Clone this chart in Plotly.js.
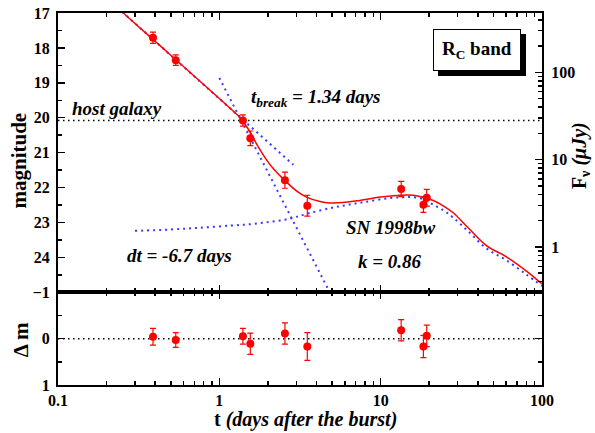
<!DOCTYPE html>
<html>
<head>
<meta charset="utf-8">
<script src="https://cdn.plot.ly/plotly-3.0.1.min.js"></script>
<style>html,body{margin:0;padding:0;background:#fff;}#chart{width:595px;height:433px;}</style>
</head>
<body>
<div id="chart"></div>
<script>
// ---- observed R_C photometry ----
const obsT   = [0.388, 0.537, 1.40, 1.556, 2.55, 3.51, 13.4, 18.4, 19.3];
const obsMag = [17.71, 18.35, 20.08, 20.59, 21.79, 22.52, 22.04, 22.49, 22.29];
const obsErr = [0.16, 0.15, 0.16, 0.21, 0.23, 0.30, 0.22, 0.22, 0.24];

// ---- residuals ----
const resDm  = [-0.04, 0.03, -0.05, 0.11, -0.11, 0.17, -0.18, 0.17, -0.06];
const resErr = [0.18, 0.16, 0.17, 0.23, 0.23, 0.30, 0.23, 0.24, 0.23];

// ---- total fit (red) ----
const fitT   = [0.254, 0.3, 0.4, 0.5, 0.7, 1.0, 1.2, 1.34, 1.45, 1.57, 1.75, 1.97, 2.2, 2.55, 3.02, 3.5, 4.21, 4.85, 5.8, 7.11, 10, 13.2, 15.8, 18, 21.2, 25, 28.3, 35, 45.5, 60.5, 80.5, 100];
const fitMag = [17.0, 17.30, 17.81, 18.21, 18.81, 19.45, 19.78, 19.99, 20.2, 20.45, 20.85, 21.22, 21.5, 21.8, 22.1, 22.28, 22.40, 22.44, 22.43, 22.38, 22.27, 22.22, 22.22, 22.27, 22.37, 22.55, 22.73, 23.16, 23.67, 23.99, 24.40, 24.76];

// ---- afterglow power laws (blue dotted) ----
const preT   = [0.25, 2.88];
const preMag = [16.97, 21.35];
const postT   = [1.0, 4.9];
const postMag = [18.86, 25.05];

// ---- SN 1998bw component (blue dotted) ----
const snT   = [0.3, 0.5, 0.76, 1.17, 1.55, 2.0, 2.55, 3.0, 3.63, 4.85, 6.0, 7.81, 11.4, 13.8, 15.2, 18, 21.2, 25, 28.3, 35, 45.5, 60.5, 80.5, 100];
const snMag = [23.24, 23.2, 23.15, 23.09, 23.05, 22.99, 22.92, 22.84, 22.73, 22.59, 22.51, 22.42, 22.30, 22.28, 22.27, 22.32, 22.49, 22.68, 22.87, 23.26, 23.75, 24.09, 24.5, 24.82];

// ---- host galaxy level and zero line ----
const hostT = [0.1, 100];
const hostMag = [20.08, 20.08];
const zeroT = [0.1, 100];
const zeroDm = [0, 0];

// ---- ticks ----
const xTickVals = [0.1, 1, 10, 100];
const xTickText = ['0.1', '1', '10', '100'];
const xMinor = [0.2,0.3,0.4,0.5,0.6,0.7,0.8,0.9,2,3,4,5,6,7,8,9,20,30,40,50,60,70,80,90];
const magTicks = [17, 18, 19, 20, 21, 22, 23, 24];
const magMinor = [17.5, 18.5, 19.5, 20.5, 21.5, 22.5, 23.5, 24.5];
const fluxTicks = [1, 10, 100];
const fluxTickText = ['1', '10', '100'];
const fluxMinor = [0.4,0.5,0.6,0.7,0.8,0.9,2,3,4,5,6,7,8,9,20,30,40,50,60,70,80,90,200,300,400];
const dmTicks = [-1, 0, 1];
const dmMinor = [-0.5, 0.5];

// magnitude corresponding to 100 microJy (for the flux axis)
const mag100 = 18.70;
const magRange = [25, 17];
const toFlux = m => Math.pow(10, 2 - 0.4 * (m - mag100));
const fluxRange = magRange.map(m => Math.log10(toFlux(m)));
const obsFlux = obsMag.map(toFlux);

const FONT = 'Liberation Serif, Times New Roman, serif';
const RED = '#ff0000';
const BLUE = '#3a3aff';
const DOTS = '2px,4px';

const traces = [
  {x: hostT, y: hostMag, xaxis: 'x', yaxis: 'y', mode: 'lines', line: {color: '#000', width: 1.5, dash: '1.5px,3.5px'}},
  {x: preT, y: preMag, xaxis: 'x', yaxis: 'y', mode: 'lines', line: {color: BLUE, width: 2, dash: DOTS}},
  {x: postT, y: postMag, xaxis: 'x', yaxis: 'y', mode: 'lines', line: {color: BLUE, width: 2, dash: DOTS}},
  {x: snT, y: snMag, xaxis: 'x', yaxis: 'y', mode: 'lines', line: {color: BLUE, width: 2, dash: DOTS, shape: 'spline'}},
  {x: fitT, y: fitMag, xaxis: 'x', yaxis: 'y', mode: 'lines', line: {color: RED, width: 1.5, shape: 'spline'}},
  {x: obsT, y: obsMag, xaxis: 'x', yaxis: 'y', mode: 'markers', marker: {color: RED, size: 8},
   error_y: {type: 'data', array: obsErr, visible: true, color: RED, thickness: 1.2, width: 3}},
  // same observations on the flux scale (invisible; it builds the right-hand axis)
  {x: obsT, y: obsFlux, xaxis: 'x', yaxis: 'y2', mode: 'markers', marker: {color: RED, size: 8, opacity: 0}},
  {x: zeroT, y: zeroDm, xaxis: 'x2', yaxis: 'y3', mode: 'lines', line: {color: '#000', width: 1.5, dash: '1.5px,3.5px'}},
  {x: obsT, y: resDm, xaxis: 'x2', yaxis: 'y3', mode: 'markers', marker: {color: RED, size: 8},
   error_y: {type: 'data', array: resErr, visible: true, color: RED, thickness: 1.2, width: 3}}
];

const tickFont = {family: FONT, size: 16, color: '#000', weight: 'bold'};
const split = 0.2492;

const xBase = {
  type: 'log', range: [-1, 2], showgrid: false, zeroline: false,
  showline: true, linecolor: '#000', linewidth: 2, mirror: 'ticks',
  ticks: 'inside', ticklen: 7, tickwidth: 1.5, tickcolor: '#000',
  tickmode: 'array', tickvals: xTickVals, ticktext: xTickText, tickfont: tickFont,
  minor: {tickmode: 'array', tickvals: xMinor, ticks: 'inside', ticklen: 4, tickwidth: 1.5, tickcolor: '#000', showgrid: false}
};

const layout = {
  width: 595, height: 433,
  margin: {l: 58, r: 53, t: 13, b: 48},
  paper_bgcolor: '#fff', plot_bgcolor: '#fff',
  showlegend: false,
  xaxis: Object.assign({}, xBase, {anchor: 'y', showticklabels: false}),
  xaxis2: Object.assign({}, xBase, {anchor: 'y3', matches: 'x', ticklabelstandoff: 0}),
  yaxis: {
    domain: [split, 1], range: magRange, anchor: 'x', side: 'left',
    showgrid: false, zeroline: false, showline: true, linecolor: '#000', linewidth: 2,
    ticks: 'inside', ticklen: 7, tickwidth: 1.5, tickcolor: '#000',
    tickmode: 'array', tickvals: magTicks, tickfont: tickFont, ticklabelstandoff: 3,
    minor: {tickmode: 'array', tickvals: magMinor, ticks: 'inside', ticklen: 4, tickwidth: 1.5, tickcolor: '#000', showgrid: false}
  },
  yaxis2: {
    type: 'log', overlaying: 'y', side: 'right', anchor: 'x', range: fluxRange,
    showgrid: false, zeroline: false, showline: true, linecolor: '#000', linewidth: 2,
    ticks: 'inside', ticklen: 7, tickwidth: 1.5, tickcolor: '#000',
    tickmode: 'array', tickvals: fluxTicks, ticktext: fluxTickText, tickfont: tickFont, ticklabelstandoff: 4,
    minor: {tickmode: 'array', tickvals: fluxMinor, ticks: 'inside', ticklen: 4, tickwidth: 1.5, tickcolor: '#000', showgrid: false}
  },
  yaxis3: {
    domain: [0, split], range: [1, -1], anchor: 'x2',
    showgrid: false, zeroline: false, showline: true, linecolor: '#000', linewidth: 2, mirror: 'ticks',
    ticks: 'inside', ticklen: 7, tickwidth: 1.5, tickcolor: '#000',
    tickmode: 'array', tickvals: dmTicks, tickfont: tickFont, ticklabelstandoff: 3,
    minor: {tickmode: 'array', tickvals: dmMinor, ticks: 'inside', ticklen: 4, tickwidth: 1.5, tickcolor: '#000', showgrid: false}
  },
  annotations: [
    {xref: 'paper', yref: 'paper', x: -0.0805, y: 0.6035, text: '<b>magnitude</b>', textangle: -90, showarrow: false,
     xanchor: 'center', yanchor: 'middle', font: {family: FONT, size: 21, color: '#000'}},
    {xref: 'paper', yref: 'paper', x: -0.076, y: 0.121, text: '<b>Δ m</b>', textangle: -90, showarrow: false,
     xanchor: 'center', yanchor: 'middle', font: {family: FONT, size: 21, color: '#000'}},
    {xref: 'paper', yref: 'paper', x: 1.0785, y: 0.618, text: '<b>F<sub>ν</sub> <i>(μJy)</i></b>', textangle: -90, showarrow: false,
     xanchor: 'center', yanchor: 'middle', font: {family: FONT, size: 20, color: '#000'}},
    {xref: 'paper', yref: 'paper', x: 0.511, y: -0.0914, text: '<b>t <i>(days after the burst)</i></b>', showarrow: false,
     xanchor: 'center', yanchor: 'middle', font: {family: FONT, size: 20, color: '#000'}},
    {xref: 'paper', yref: 'paper', x: 0.1226, y: 0.7446, text: '<b><i>host galaxy</i></b>', showarrow: false,
     xanchor: 'center', yanchor: 'middle', font: {family: FONT, size: 19, color: '#000'}},
    {xref: 'paper', yref: 'paper', x: 0.532, y: 0.772, text: '<b><i>t<sub>break</sub> = 1.34 days</i></b>', showarrow: false,
     xanchor: 'center', yanchor: 'middle', font: {family: FONT, size: 19, color: '#000'}},
    {xref: 'paper', yref: 'paper', x: 0.252, y: 0.347, text: '<b><i>dt = -6.7 days</i></b>', showarrow: false,
     xanchor: 'center', yanchor: 'middle', font: {family: FONT, size: 19, color: '#000'}},
    {xref: 'paper', yref: 'paper', x: 0.6876, y: 0.4247, text: '<b><i>SN 1998bw</i></b>', showarrow: false,
     xanchor: 'center', yanchor: 'middle', font: {family: FONT, size: 19, color: '#000'}},
    {xref: 'paper', yref: 'paper', x: 0.686, y: 0.331, text: '<b><i>k = 0.86</i></b>', showarrow: false,
     xanchor: 'center', yanchor: 'middle', font: {family: FONT, size: 19, color: '#000'}},
    // shadow of the band box
    {xref: 'paper', yref: 'paper', x: 0.8667, y: 0.9005, xshift: 5, yshift: -5, text: '<b>R<sub>C</sub> band</b>', showarrow: false,
     xanchor: 'center', yanchor: 'middle', font: {family: FONT, size: 19, color: '#000'},
     bgcolor: '#000', bordercolor: '#000', borderwidth: 1, borderpad: 8},
    {xref: 'paper', yref: 'paper', x: 0.8667, y: 0.9005, text: '<b>R<sub>C</sub> band</b>', showarrow: false,
     xanchor: 'center', yanchor: 'middle', font: {family: FONT, size: 19, color: '#000'},
     bgcolor: '#fff', bordercolor: '#000', borderwidth: 1, borderpad: 8}
  ]
};

Plotly.newPlot('chart', traces, layout, {displayModeBar: false, staticPlot: true});
</script>
</body>
</html>
